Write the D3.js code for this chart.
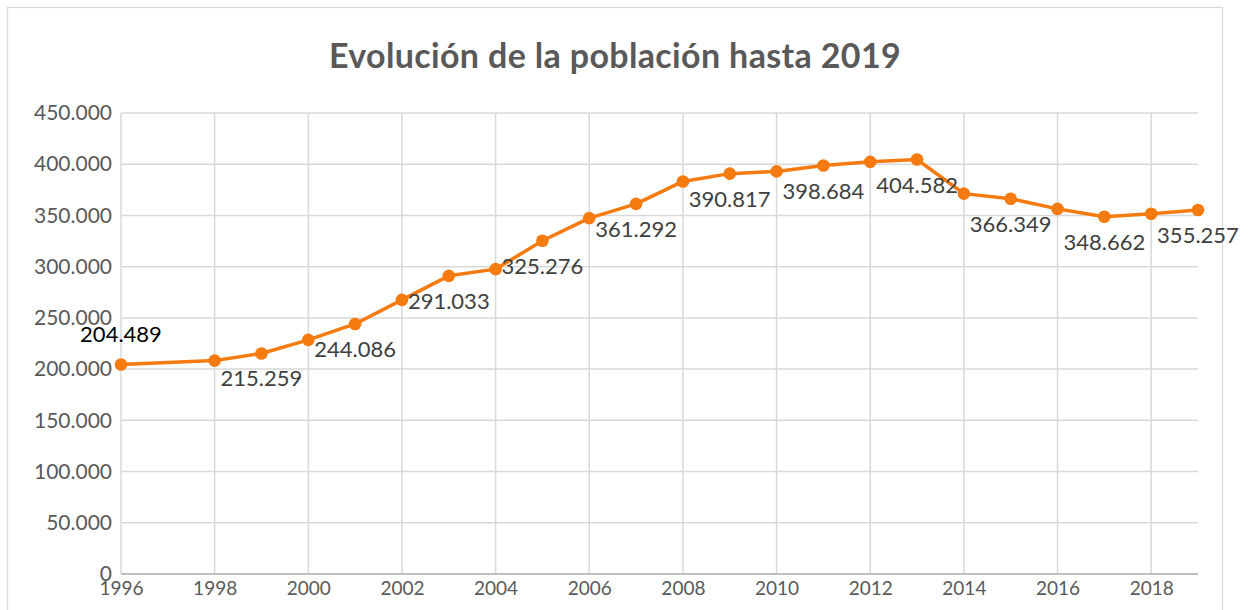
<!DOCTYPE html>
<html>
<head>
<meta charset="utf-8">
<script src="https://cdn.jsdelivr.net/npm/d3@7"></script>
<style>
  html, body { margin: 0; padding: 0; background: #fff; }
  svg { display: block; font-family: Lato, "Open Sans", sans-serif; }
</style>
</head>
<body>
<div id="chart"></div>
<script>
// Years with a data point (no point for 1997)
const years = [1996, 1998, 1999, 2000, 2001, 2002, 2003, 2004, 2005, 2006, 2007,
  2008, 2009, 2010, 2011, 2012, 2013, 2014, 2015, 2016, 2017, 2018, 2019];
const population = [204489, 208300, 215259, 228500, 244086, 267600, 291033, 297600,
  325276, 347400, 361292, 383200, 390817, 393000, 398684, 402300, 404582, 371300,
  366349, 356400, 348662, 351600, 355257];
const xTicks = [1996, 1998, 2000, 2002, 2004, 2006, 2008, 2010, 2012, 2014, 2016, 2018];
const yTicks = [0, 50000, 100000, 150000, 200000, 250000, 300000, 350000, 400000, 450000];
const title = "Evolución de la población hasta 2019";

const width = 1253;
const height = 610;
const marginLeft = 121;
const plotRight = 1198;
const marginTop = 113;
const plotBottom = 574;

const data = years.map((year, i) => ({year, value: population[i], i}));

const es = d3.formatLocale({decimal: ",", thousands: ".", grouping: [3], currency: ["", " €"]});
const fmt = es.format(",d");

const x = d3.scaleLinear()
    .domain([1996, 2019])
    .range([marginLeft, plotRight]);

const y = d3.scaleLinear()
    .domain([0, 450000])
    .range([plotBottom, marginTop]);

const svg = d3.select("#chart").append("svg")
    .attr("width", width)
    .attr("height", height)
    .attr("viewBox", [0, 0, width, height]);

// chart frame
svg.append("rect")
    .attr("x", 7.5)
    .attr("y", 7.5)
    .attr("width", 1215)
    .attr("height", 640)
    .attr("fill", "#fff")
    .attr("stroke", "#d9d9d9")
    .attr("stroke-width", 1.3);

// title
svg.append("text")
    .attr("x", 615)
    .attr("y", 68)
    .attr("text-anchor", "middle")
    .style("font-size", "34px")
    .style("letter-spacing", "0.35px")
    .style("font-weight", "bold")
    .style("fill", "#595959")
    .text(title);

// horizontal gridlines
svg.append("g")
  .selectAll("line")
  .data(yTicks.slice(1))
  .join("line")
    .attr("x1", marginLeft)
    .attr("x2", plotRight)
    .attr("y1", d => y(d))
    .attr("y2", d => y(d))
    .attr("stroke", "#d9d9d9")
    .attr("stroke-width", 1.5);

// vertical gridlines
svg.append("g")
  .selectAll("line")
  .data(xTicks)
  .join("line")
    .attr("x1", d => x(d))
    .attr("x2", d => x(d))
    .attr("y1", marginTop)
    .attr("y2", plotBottom)
    .attr("stroke", "#d9d9d9")
    .attr("stroke-width", 1.5);

// y axis labels
svg.append("g")
    .attr("transform", `translate(${marginLeft},0)`)
    .call(d3.axisLeft(y).tickValues(yTicks).tickFormat(fmt).tickSize(0).tickPadding(9))
    .call(g => g.select(".domain").remove())
    .selectAll("text")
    .style("font-family", "Lato, sans-serif")
    .style("font-size", "21px")
    .style("fill", "#595959");

// x axis
svg.append("g")
    .attr("transform", `translate(0,${plotBottom})`)
    .call(d3.axisBottom(x).tickValues(xTicks).tickFormat(d3.format("d")).tickSize(0).tickPadding(8))
    .call(g => g.select(".domain").attr("stroke", "#bfbfbf").attr("stroke-width", 2)
        .attr("d", `M${marginLeft},0H${plotRight}`))
    .selectAll("text")
    .style("font-family", "Lato, sans-serif")
    .style("font-size", "19px")
    .style("fill", "#595959");

const orange = "#f57b10";

// line
svg.append("path")
    .datum(data)
    .attr("fill", "none")
    .attr("stroke", orange)
    .attr("stroke-width", 3.5)
    .attr("stroke-linejoin", "round")
    .attr("d", d3.line().x(d => x(d.year)).y(d => y(d.value)));

// markers
svg.append("g")
  .selectAll("circle")
  .data(data)
  .join("circle")
    .attr("cx", d => x(d.year))
    .attr("cy", d => y(d.value))
    .attr("r", 6.3)
    .attr("fill", orange);

// data labels on every other point
svg.append("g")
  .selectAll("text")
  .data(data.filter(d => d.i % 2 === 0))
  .join("text")
    .attr("x", d => x(d.year))
    .attr("y", d => y(d.value) + (d.i === 0 ? -23 : 33))
    .attr("text-anchor", "middle")
    .style("font-size", "22px")
    .style("fill", d => d.i === 0 ? "#000" : "#404040")
    .text(d => fmt(d.value));
</script>
</body>
</html>
